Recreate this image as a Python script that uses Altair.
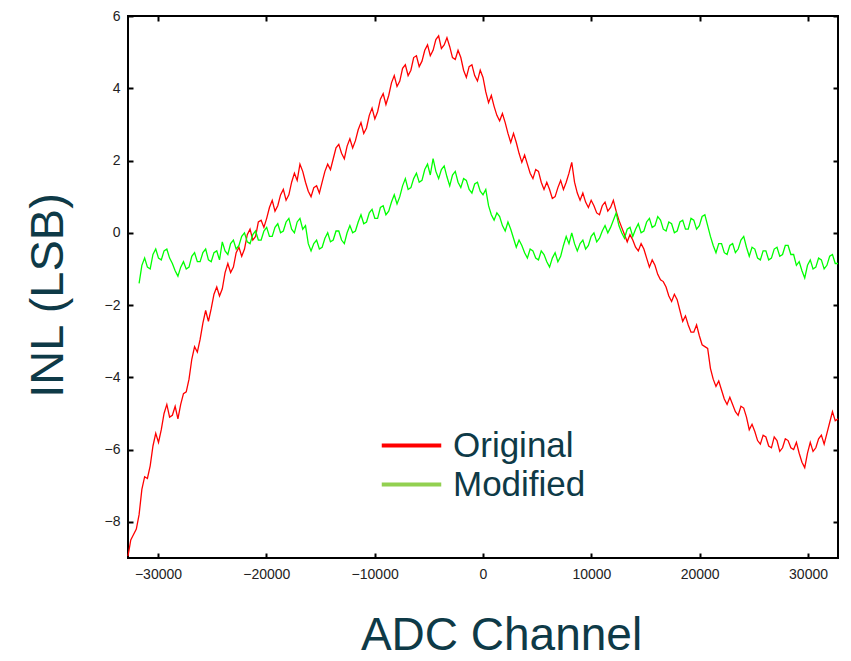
import altair as alt
import pandas as pd

# ADC channel sample positions (16-bit ADC, 256-channel steps)
channels = list(range(-32768, 32768, 256)) + [32767]

# INL (LSB), one value per channel above
original = [
    -8.95, -8.5, -8.35, -8.2, -7.8, -7.1, -6.75, -6.8, -6.45, -5.9,
    -5.55, -5.8, -5.45, -5.0, -4.75, -5.1, -5.05, -4.8, -5.15, -4.75,
    -4.45, -4.4, -4.05, -3.5, -3.15, -3.3, -2.95, -2.5, -2.15, -2.45,
    -2.1, -1.7, -1.5, -1.75, -1.55, -1.1, -0.85, -1.1, -0.95, -0.55,
    -0.4, -0.65, -0.45, -0.05, 0.1, -0.2, -0.1, 0.3, 0.35, 0.15,
    0.4, 0.7, 0.9, 0.6, 0.75, 1.05, 1.2, 0.9, 1.05, 1.4,
    1.65, 1.45, 1.9, 1.7, 1.4, 1.15, 1.0, 1.25, 1.3, 1.1,
    1.4, 1.7, 1.9, 1.75, 2.05, 2.35, 2.45, 2.2, 2.05, 2.4,
    2.6, 2.35, 2.55, 2.85, 3.05, 2.75, 2.9, 3.25, 3.45, 3.15,
    3.35, 3.7, 3.85, 3.55, 3.8, 4.15, 4.35, 4.05, 4.2, 4.55,
    4.65, 4.35, 4.5, 4.85, 4.9, 4.6, 4.75, 5.05, 5.2, 4.9,
    5.05, 5.35, 5.45, 5.1, 5.2, 5.4, 5.15, 4.85, 4.8, 5.05,
    4.85, 4.5, 4.3, 4.6, 4.65, 4.35, 4.2, 4.5, 4.3, 3.9,
    3.6, 3.8, 3.5, 3.25, 3.1, 3.3, 3.05, 2.75, 2.5, 2.75,
    2.5, 2.2, 1.95, 2.15, 1.9, 1.65, 1.5, 1.75, 1.7, 1.4,
    1.2, 1.4, 1.2, 0.95, 1.0, 1.25, 1.45, 1.2, 1.4, 1.65,
    1.95, 1.4, 1.1, 0.9, 1.1, 0.85, 0.7, 0.9, 0.75, 0.55,
    0.5, 0.75, 0.85, 0.6, 0.7, 0.9, 0.6, 0.35, 0.15, -0.05,
    -0.25, -0.05, -0.2, -0.4, -0.5, -0.3, -0.45, -0.7, -0.95, -0.75,
    -0.9, -1.15, -1.3, -1.35, -1.5, -1.75, -1.9, -1.7, -1.85, -2.15,
    -2.45, -2.3, -2.55, -2.75, -2.75, -2.55, -2.85, -3.1, -3.15, -3.2,
    -3.75, -4.05, -4.25, -4.1, -4.35, -4.6, -4.75, -4.55, -4.75, -4.95,
    -5.05, -4.8, -4.85, -5.1, -5.45, -5.3, -5.5, -5.75, -5.85, -5.6,
    -5.65, -5.9, -5.95, -5.65, -5.75, -6.05, -5.95, -5.7, -5.75, -5.95,
    -6.0, -5.8, -6.1, -6.35, -6.5, -6.1, -5.8, -6.05, -5.95, -5.7,
    -5.6, -5.85, -5.55, -5.25, -4.95, -5.2, -5.15,
]

modified = [
    None, None, None, None, -1.4, -0.9, -0.7, -0.95, -1.0, -0.6,
    -0.45, -0.7, -0.75, -0.5, -0.45, -0.7, -0.85, -1.05, -1.2, -0.95,
    -0.8, -1.0, -0.95, -0.65, -0.55, -0.8, -0.8, -0.55, -0.45, -0.75,
    -0.8, -0.55, -0.5, -0.75, -0.25, -0.5, -0.6, -0.3, -0.2, -0.45,
    -0.35, -0.1, 0.0, -0.25, -0.3, -0.05, 0.05, -0.2, -0.2, 0.05,
    0.15, -0.1, -0.1, 0.15, 0.25, 0.0, 0.05, 0.3, 0.4, 0.1,
    0.0, 0.3, 0.4, 0.1, 0.2, -0.3, -0.5, -0.3, -0.2, -0.45,
    -0.4, -0.15, 0.0, -0.25, -0.2, 0.05, 0.05, -0.2, -0.3, 0.0,
    0.2, 0.0, 0.05, 0.3, 0.5, 0.25, 0.3, 0.55, 0.65, 0.4,
    0.4, 0.7, 0.75, 0.5, 0.6, 0.85, 1.05, 0.8, 1.0, 1.3,
    1.5, 1.2, 1.25, 1.5, 1.65, 1.4, 1.45, 1.75, 1.9, 1.6,
    2.05, 1.7, 1.5, 1.75, 1.85, 1.55, 1.3, 1.6, 1.7, 1.4,
    1.25, 1.5, 1.45, 1.2, 1.1, 1.35, 1.4, 1.15, 1.05, 1.2,
    0.75, 0.5, 0.35, 0.55, 0.45, 0.2, 0.05, 0.3, 0.1, -0.15,
    -0.4, -0.2, -0.35, -0.55, -0.7, -0.45, -0.5, -0.7, -0.75, -0.5,
    -0.6, -0.8, -0.95, -0.7, -0.55, -0.8, -0.65, -0.35, -0.1, -0.3,
    0.0, -0.3, -0.5, -0.3, -0.2, -0.45, -0.35, -0.1, 0.0, -0.25,
    -0.15, 0.05, 0.2, 0.0, 0.15, 0.35, 0.55, 0.2, 0.0, -0.15,
    0.1, 0.15, -0.1, 0.1, 0.25, 0.0, 0.05, 0.3, 0.4, 0.15,
    0.2, 0.45, 0.35, 0.1, 0.05, 0.3, 0.25, 0.0, 0.05, 0.3,
    0.35, 0.1, 0.1, 0.4, 0.35, 0.1, 0.2, 0.45, 0.5, 0.2,
    -0.1, -0.35, -0.55, -0.3, -0.3, -0.55, -0.6, -0.35, -0.3, -0.55,
    -0.45, -0.2, -0.1, -0.4, -0.65, -0.4, -0.45, -0.7, -0.75, -0.5,
    -0.5, -0.75, -0.7, -0.45, -0.4, -0.65, -0.6, -0.35, -0.35, -0.6,
    -0.6, -0.9, -0.8, -1.05, -1.25, -0.9, -0.75, -1.0, -0.95, -0.7,
    -0.75, -1.0, -0.9, -0.65, -0.6, -0.85, -0.85,
]

series_names = ["Original", "Modified"]
x_ticks = [-30000, -20000, -10000, 0, 10000, 20000, 30000]
y_ticks = [-8, -6, -4, -2, 0, 2, 4, 6]

rows = []
for c, o, m in zip(channels, original, modified):
    rows.append({"ch": c, "inl": o, "series": "Original"})
    if m is not None:
        rows.append({"ch": c, "inl": m, "series": "Modified"})
df = pd.DataFrame(rows)

W, H = 710, 542
TEXT = "#0e3a47"
LABEL_FONT = "Liberation Sans Narrow, Arial Narrow, Liberation Sans, sans-serif"
TITLE_FONT = "Liberation Sans, Arial, sans-serif"

xs = alt.Scale(domain=[-32768, 32767], nice=False, zero=False)
ys = alt.Scale(domain=[-9, 6], nice=False, zero=False)

main_x = alt.Axis(
    values=x_ticks, format="d", title="ADC Channel", ticks=False, domain=False,
    grid=False, labelFont=LABEL_FONT, labelFontSize=14, labelColor="#222222",
    labelPadding=9, titleFont=TITLE_FONT, titleFontSize=46, titleColor=TEXT,
    titleFontWeight="normal", titleX=373, titleY=91, titleAlign="center",
    titleBaseline="alphabetic",
)
main_y = alt.Axis(
    values=y_ticks, format="d", title="INL (LSB)", ticks=False, domain=False,
    grid=False, labelFont=LABEL_FONT, labelFontSize=14, labelColor="#222222",
    labelPadding=8, titleFont=TITLE_FONT, titleFontSize=47, titleColor=TEXT,
    titleFontWeight="normal", titleAngle=-90, titleX=-66, titleY=279,
    titleAlign="center", titleBaseline="alphabetic",
)


def tick_axis(orient, offset, values):
    return alt.Axis(
        orient=orient, offset=offset, values=values, labels=False, domain=False,
        grid=False, ticks=True, tickSize=5, tickWidth=2, tickColor="black",
        title=None,
    )


lines = alt.Chart(df).mark_line(strokeWidth=1.3).encode(
    x=alt.X("ch:Q", scale=xs, axis=main_x),
    y=alt.Y("inl:Q", scale=ys, axis=main_y),
    color=alt.Color(
        "series:N",
        scale=alt.Scale(domain=series_names, range=["#ff0000", "#00ff00"]),
        legend=None,
    ),
    detail="series:N",
)

ticks_a = alt.Chart(df).mark_point(opacity=0).encode(
    x=alt.X("ch:Q", scale=xs, axis=tick_axis("top", -H, x_ticks)),
    y=alt.Y("inl:Q", scale=ys, axis=tick_axis("right", -W, y_ticks)),
)
ticks_b = alt.Chart(df).mark_point(opacity=0).encode(
    x=alt.X("ch:Q", scale=xs, axis=tick_axis("bottom", -H, x_ticks)),
    y=alt.Y("inl:Q", scale=ys, axis=tick_axis("left", -W, y_ticks)),
)

legend_layer = alt.Chart(df).mark_line(opacity=0).encode(
    x=alt.X("ch:Q", scale=xs, axis=None),
    y=alt.Y("inl:Q", scale=ys, axis=None),
    color=alt.Color(
        "series:N",
        scale=alt.Scale(domain=series_names, range=["#ff0000", "#92d050"]),
        legend=alt.Legend(
            orient="none", legendX=264, legendY=410, title=None,
            symbolType="M-1.7,0H1.7", symbolSize=1225, symbolStrokeWidth=4,
            symbolOpacity=1, labelFont=TITLE_FONT, labelFontSize=35,
            labelColor=TEXT, labelOffset=22, rowPadding=1, padding=0,
            labelLimit=400,
        ),
    ),
)

chart = (
    alt.layer(lines, ticks_a, ticks_b, legend_layer)
    .resolve_axis(x="independent", y="independent")
    .resolve_scale(color="independent")
    .properties(
        width=W, height=H,
        padding={"left": 120, "top": 8, "right": 5, "bottom": 103},
        autosize=alt.AutoSizeParams(type="none"),
        background="white",
    )
    .configure_view(stroke="black", strokeWidth=2)
)

chart.save("out.html", embed_options={"renderer": "svg", "actions": False})
